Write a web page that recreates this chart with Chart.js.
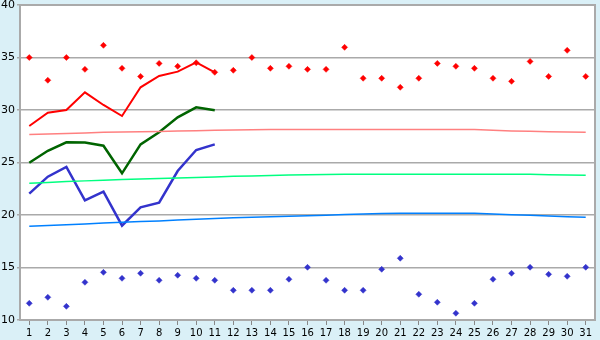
<!DOCTYPE html>
<html><head><meta charset="utf-8">
<script src="https://cdn.jsdelivr.net/npm/chart.js@4/dist/chart.umd.min.js"></script>
<style>html,body{margin:0;padding:0;background:#daf0f7;}#wrap{width:600px;height:340px;}</style>
</head><body><div id="wrap"><canvas id="c" width="600" height="340"></canvas></div>
<script>
const days = ['1','2','3','4','5','6','7','8','9','10','11','12','13','14','15','16','17','18','19','20','21','22','23','24','25','26','27','28','29','30','31'];
const yTicks = [10,15,20,25,30,35,40];
const maxRecord = [35.0,32.83,35.0,33.87,36.16,33.97,33.2,34.44,34.16,34.5,33.59,33.78,35.0,33.97,34.16,33.87,33.87,35.97,33.02,33.02,32.16,33.02,34.44,34.16,33.97,33.02,32.73,34.63,33.2,35.68,33.2];
const minRecord = [11.59,12.16,11.3,13.59,14.54,13.97,14.45,13.78,14.26,13.97,13.78,12.83,12.83,12.83,13.88,15.02,13.78,12.83,12.83,14.83,15.88,12.45,11.69,10.64,11.59,13.88,14.45,15.02,14.35,14.16,15.02];
const maxActual = [28.48,29.74,30.0,31.68,30.48,29.43,32.16,33.24,33.65,34.54,33.59];
const meanActual = [24.98,26.12,26.92,26.9,26.6,23.97,26.73,27.88,29.3,30.25,29.97];
const minActual = [22.03,23.65,24.57,21.4,22.22,18.98,20.73,21.17,24.19,26.19,26.73];
const maxNormal = [27.66,27.71,27.77,27.82,27.87,27.9,27.93,27.96,27.99,28.02,28.06,28.1,28.13,28.15,28.15,28.15,28.15,28.15,28.15,28.15,28.15,28.15,28.15,28.15,28.14,28.06,28.01,27.97,27.93,27.9,27.88];
const meanNormal = [23.02,23.1,23.18,23.25,23.32,23.38,23.43,23.48,23.53,23.58,23.63,23.68,23.72,23.76,23.8,23.84,23.86,23.88,23.88,23.88,23.88,23.88,23.88,23.88,23.88,23.88,23.88,23.88,23.84,23.8,23.78];
const minNormal = [18.93,19.0,19.08,19.15,19.23,19.3,19.37,19.44,19.52,19.6,19.67,19.73,19.78,19.83,19.88,19.93,19.98,20.05,20.1,20.14,20.16,20.16,20.16,20.16,20.16,20.1,20.03,19.97,19.9,19.84,19.78];

const bgPlugin = {
  id: 'bg',
  beforeDraw(chart) {
    const {ctx, chartArea: a} = chart;
    ctx.save();
    ctx.fillStyle = '#daf0f7';
    ctx.fillRect(0, 0, chart.width, chart.height);
    ctx.fillStyle = '#ffffff';
    ctx.fillRect(a.left, a.top, a.right - a.left, a.bottom - a.top);
    ctx.restore();
  },
  afterDraw(chart) {
    const {ctx, chartArea: a} = chart;
    ctx.save();
    ctx.strokeStyle = '#aaaaaa';
    ctx.lineWidth = 2;
    ctx.strokeRect(a.left, a.top, a.right - a.left, a.bottom - a.top);
    ctx.restore();
  }
};

function lineDs(data, color, width) {
  return {type: 'line', data, borderColor: color, backgroundColor: color, borderWidth: width, pointRadius: 0, fill: false, tension: 0};
}
function markDs(data, color) {
  return {type: 'line', data, showLine: false, borderColor: color, backgroundColor: color, pointStyle: 'rectRot', pointRadius: 3, pointBorderWidth: 0.5, pointHoverRadius: 3};
}

new Chart(document.getElementById('c'), {
  type: 'line',
  data: {
    labels: days,
    datasets: [
      lineDs(maxNormal, '#ff8080', 1.5),
      lineDs(meanNormal, '#00ff80', 1.5),
      lineDs(minNormal, '#0080ff', 1.5),
      lineDs(maxActual, '#ff0000', 2),
      lineDs(meanActual, '#006400', 2.5),
      lineDs(minActual, '#3333cc', 2.5),
      markDs(maxRecord, '#ff0000'),
      markDs(minRecord, '#3333cc')
    ]
  },
  options: {
    responsive: false,
    animation: false,
    events: [],
    layout: {padding: {left: 0, right: 5, top: 5, bottom: 0}},
    plugins: {legend: {display: false}, tooltip: {enabled: false}},
    scales: {
      x: {
        offset: true,
        grid: {drawOnChartArea: false, drawTicks: true, tickLength: 5, color: '#888888', offset: false},
        border: {display: true, color: '#aaaaaa', width: 2},
        ticks: {color: '#000', font: {family: 'DejaVu Sans', size: 10}, padding: 2, maxRotation: 0, autoSkip: false},
        afterFit(s) { s.height = 20; s.paddingLeft = 0; s.paddingRight = 0; }
      },
      y: {
        min: 10, max: 40,
        afterBuildTicks(s) { s.ticks = yTicks.map(v => ({value: v})); },
        grid: {color: '#aaaaaa', lineWidth: 1.5, drawTicks: true, tickLength: 3},
        border: {display: true, color: '#aaaaaa', width: 2},
        ticks: {color: '#000', font: {family: 'DejaVu Sans', size: 11}, padding: 2},
        afterFit(s) { s.width = 20; s.paddingTop = 0; s.paddingBottom = 0; }
      }
    }
  },
  plugins: [bgPlugin]
});
</script>
</body></html>
